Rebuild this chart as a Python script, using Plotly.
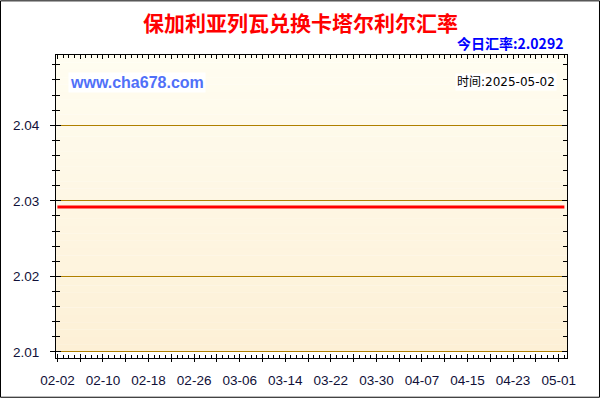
import pandas as pd
import plotly.graph_objects as go

# daily rate data, 2025-02-02 .. 2025-05-02 (flat line on the chart)
dates = pd.date_range("2025-02-02", "2025-05-02", freq="D")
rates = [
    2.0292, 2.0292, 2.0292, 2.0292, 2.0292, 2.0292, 2.0292, 2.0292, 2.0292, 2.0292,
    2.0292, 2.0292, 2.0292, 2.0292, 2.0292, 2.0292, 2.0292, 2.0292, 2.0292, 2.0292,
    2.0292, 2.0292, 2.0292, 2.0292, 2.0292, 2.0292, 2.0292, 2.0292, 2.0292, 2.0292,
    2.0292, 2.0292, 2.0292, 2.0292, 2.0292, 2.0292, 2.0292, 2.0292, 2.0292, 2.0292,
    2.0292, 2.0292, 2.0292, 2.0292, 2.0292, 2.0292, 2.0292, 2.0292, 2.0292, 2.0292,
    2.0292, 2.0292, 2.0292, 2.0292, 2.0292, 2.0292, 2.0292, 2.0292, 2.0292, 2.0292,
    2.0292, 2.0292, 2.0292, 2.0292, 2.0292, 2.0292, 2.0292, 2.0292, 2.0292, 2.0292,
    2.0292, 2.0292, 2.0292, 2.0292, 2.0292, 2.0292, 2.0292, 2.0292, 2.0292, 2.0292,
    2.0292, 2.0292, 2.0292, 2.0292, 2.0292, 2.0292, 2.0292, 2.0292, 2.0292, 2.0292,
]

# x tick labels (every 8 days), long ticks every 4 days
tick_labels = ["02-02", "02-10", "02-18", "02-26", "03-06", "03-14",
               "03-22", "03-30", "04-07", "04-15", "04-23", "05-01"]
tick_dates = pd.date_range("2025-02-02", "2025-05-01", freq="4D")
tick_text = []
for i in range(len(tick_dates)):
    tick_text.append(tick_labels[i // 2] if i % 2 == 0 else "")

y_ticks = [2.01, 2.02, 2.03, 2.04]

title = "保加利亚列瓦兑换卡塔尔利尔汇率"
today_rate = "今日汇率:2.0292"
site = "www.cha678.com"
stamp = "时间:2025-05-02"

x_range = ["2025-02-01 18:00", "2025-05-02 11:00"]
y_range = [2.0092, 2.0493]
fill_top = 2.0493
fill_bottom = 2.01

fig = go.Figure()
fig.add_trace(go.Scatter(x=dates, y=rates, mode="lines",
                         line=dict(color="#FF0000", width=3),
                         showlegend=False, hoverinfo="skip"))
# invisible copy so the overlay axes (inside ticks) get drawn
fig.add_trace(go.Scatter(x=dates, y=rates, mode="lines", xaxis="x2", yaxis="y2",
                         line=dict(width=0), opacity=0,
                         showlegend=False, hoverinfo="skip"))

# cream gradient background of the plot area
n = 40
top_c = (255, 253, 241)
bot_c = (253, 240, 214)
shapes = []
step = (fill_top - fill_bottom) / n
for i in range(n):
    t = (i + 0.5) / n
    c = tuple(round(top_c[k] + (bot_c[k] - top_c[k]) * t) for k in range(3))
    shapes.append(dict(type="rect", xref="paper", yref="y", layer="below",
                       x0=0, x1=1, y0=fill_top - step * (i + 1) - 0.00002,
                       y1=fill_top - step * i,
                       fillcolor="rgb(%d,%d,%d)" % c, line=dict(width=0)))
# outer border of the image
shapes.append(dict(type="rect", xref="paper", yref="paper",
                   x0=-0.1086, x1=1.0636, y0=-0.1295, y1=1.1787,
                   line=dict(color="#000000", width=1)))

tick_font = dict(family="Liberation Sans, Arial", size=13.5, color="#101038")

fig.update_layout(
    width=600, height=400,
    margin=dict(l=56, r=33, t=55, b=40),
    paper_bgcolor="#FFFFFF", plot_bgcolor="#FFFFFF",
    shapes=shapes,
    xaxis=dict(type="date", range=x_range, tickvals=tick_dates, ticktext=tick_text,
               ticks="outside", ticklen=3, tickcolor="#000000",
               showline=True, linecolor="#000000", linewidth=1,
               showgrid=False, zeroline=False, tickfont=tick_font,
               ticklabelstandoff=7),
    xaxis2=dict(type="date", range=x_range, overlaying="x", anchor="y2",
                tickvals=tick_dates, ticks="inside", ticklen=4, tickcolor="#000000",
                minor=dict(ticks="inside", ticklen=3, dtick=86400000,
                           tick0="2025-02-02", tickcolor="#000000"),
                showticklabels=False, showline=True, linecolor="#000000",
                mirror="allticks", showgrid=False, zeroline=False),
    yaxis=dict(range=y_range, tickvals=y_ticks, tickformat=".2f",
               ticks="outside", ticklen=5, tickcolor="#000000",
               minor=dict(ticks="outside", ticklen=3, dtick=0.002, tick0=2.0,
                          tickcolor="#000000", showgrid=False),
               showline=True, linecolor="#000000", linewidth=1,
               showgrid=True, gridcolor="#B08000", gridwidth=1,
               zeroline=False, tickfont=tick_font, ticklabelstandoff=8),
    yaxis2=dict(range=y_range, overlaying="y", anchor="x2",
                tickvals=y_ticks, ticks="inside", ticklen=5, tickcolor="#000000",
                minor=dict(ticks="inside", ticklen=4, dtick=0.002, tick0=2.0,
                           tickcolor="#000000", showgrid=False),
                showticklabels=False, showline=True, linecolor="#000000",
                mirror="allticks", showgrid=False, zeroline=False),
    annotations=[
        dict(text="<b>" + title + "</b>", xref="paper", yref="paper",
             x=0.4775, y=1.108, xanchor="center", yanchor="middle", showarrow=False,
             font=dict(family="Noto Sans CJK SC", size=21, color="#FF0000")),
        dict(text="<b>" + today_rate + "</b>", xref="paper", yref="paper",
             x=0.996, y=1.039, xanchor="right", yanchor="middle", showarrow=False,
             font=dict(family="Noto Sans CJK SC", size=14, color="#0000FF")),
        dict(text="<b>" + site + "</b>", xref="paper", yref="paper",
             x=0.0235, y=0.908, xanchor="left", yanchor="middle", showarrow=False,
             bgcolor="#FFFFFF", borderpad=1,
             font=dict(family="Liberation Sans, Arial", size=16, color="#5070F8")),
        dict(text=stamp, xref="paper", yref="paper",
             x=0.980, y=0.911, xanchor="right", yanchor="middle", showarrow=False,
             bgcolor="#FFFFFF", borderpad=1,
             font=dict(family="DejaVu Sans, Noto Sans CJK SC", size=12, color="#000000")),
    ],
)

# drop the page's default 8px body margin so the 600x400 figure fills the window
fig.write_html("out.html", config={"displayModeBar": False},
               post_script="document.body.style.margin='0px';")
